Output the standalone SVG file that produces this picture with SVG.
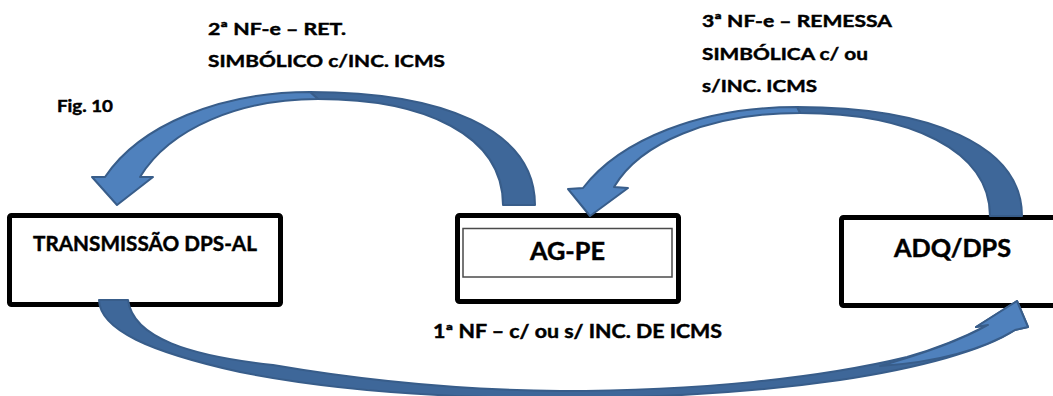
<svg xmlns="http://www.w3.org/2000/svg" width="1053" height="396" viewBox="0 0 1053 396">
<style>
.box{fill:#fff;stroke:#000;stroke-width:5;stroke-linejoin:round}
.inner{fill:#fff;stroke:#4a4a4a;stroke-width:1.5}
.t{font-family:Lato,"Liberation Sans",sans-serif;font-weight:bold;fill:#000;stroke:#000;stroke-width:0.45}
.back{fill:#3E6799;stroke:#385D8A;stroke-width:2;stroke-linejoin:round}
.front{fill:#4F81BD;stroke:#385D8A;stroke-width:2;stroke-linejoin:round}
</style>
<rect width="1053" height="396" fill="#fff"/>
<text class="t" x="57" y="112" font-size="17" textLength="56" lengthAdjust="spacingAndGlyphs">Fig. 10</text>
<g id="labels">
<text class="t" x="208" y="35" font-size="17.5" textLength="138" lengthAdjust="spacingAndGlyphs">2ª NF-e – RET.</text>
<text class="t" x="208" y="67" font-size="17.5" textLength="237" lengthAdjust="spacingAndGlyphs">SIMBÓLICO c/INC. ICMS</text>
<text class="t" x="702" y="27" font-size="17.5" textLength="190" lengthAdjust="spacingAndGlyphs">3ª NF-e – REMESSA</text>
<text class="t" x="702" y="60" font-size="17.5" textLength="166" lengthAdjust="spacingAndGlyphs">SIMBÓLICA c/ ou</text>
<text class="t" x="702" y="92" font-size="17.5" textLength="115" lengthAdjust="spacingAndGlyphs">s/INC. ICMS</text>
<text class="t" x="433" y="338" font-size="18" textLength="289" lengthAdjust="spacingAndGlyphs">1ª NF – c/ ou s/ INC. DE ICMS</text>
</g>
<g id="node-transmissao">
<rect class="box" x="9.5" y="215.5" width="271" height="89" rx="2"/>
<text class="t" x="33" y="251" font-size="21" textLength="224" lengthAdjust="spacingAndGlyphs">TRANSMISSÃO DPS-AL</text>
</g>
<g id="node-agpe">
<rect class="box" x="457.5" y="215.5" width="221" height="86" rx="2"/>
<rect class="inner" x="463" y="228.5" width="209" height="48.5"/>
<text class="t" x="530" y="260" font-size="25" textLength="75" lengthAdjust="spacingAndGlyphs">AG-PE</text>
</g>
<g id="node-adq">
<rect class="box" x="841.5" y="217.5" width="230" height="88" rx="2"/>
<text class="t" x="894" y="257" font-size="24.5" textLength="117" lengthAdjust="spacingAndGlyphs">ADQ/DPS</text>
</g>
<g id="connectors">
<g id="arrow-2nf">
<path class="back" d="M535,205 C535,128 440,92 310,92 L318,99 C425,99 503,135 503,205 Z"/>
<path class="front" d="M310,92 C220,92 140,125 105,177 L92,177 L117,205 L153,177 L140,177 C170,128 240,99 318,99 Z"/>
</g>
<g id="arrow-3nf">
<path class="back" d="M1022,216 C1022,145 930,107 797,107 L800,113 C910,113 990,150 990,216 Z"/>
<path class="front" d="M797,107 C700,107 620,140 583,188 L568,189 L590,216 L628,188 L614,187 C640,143 710,113 800,113 Z"/>
</g>
<g id="arrow-1nf">
<path class="back" d="M128,300 C133,338 190,356 273,365 C360,380 460,390 560,391 C700,391 820,378 907,357 C940,348 965,337 988,325 L976,327 L1017,301 L1028,327 L1015,330 C985,350 920,368 840,380 C750,393 650,398 560,398 C430,398 320,388 240,372 C150,352 100,330 99,300 Z"/>
<path class="front" d="M880,366 C930,352 965,338 988,325 L976,327 L1017,301 L1028,327 L1015,330 C985,348 940,362 880,366 Z"/>
</g>
</g>
</svg>
